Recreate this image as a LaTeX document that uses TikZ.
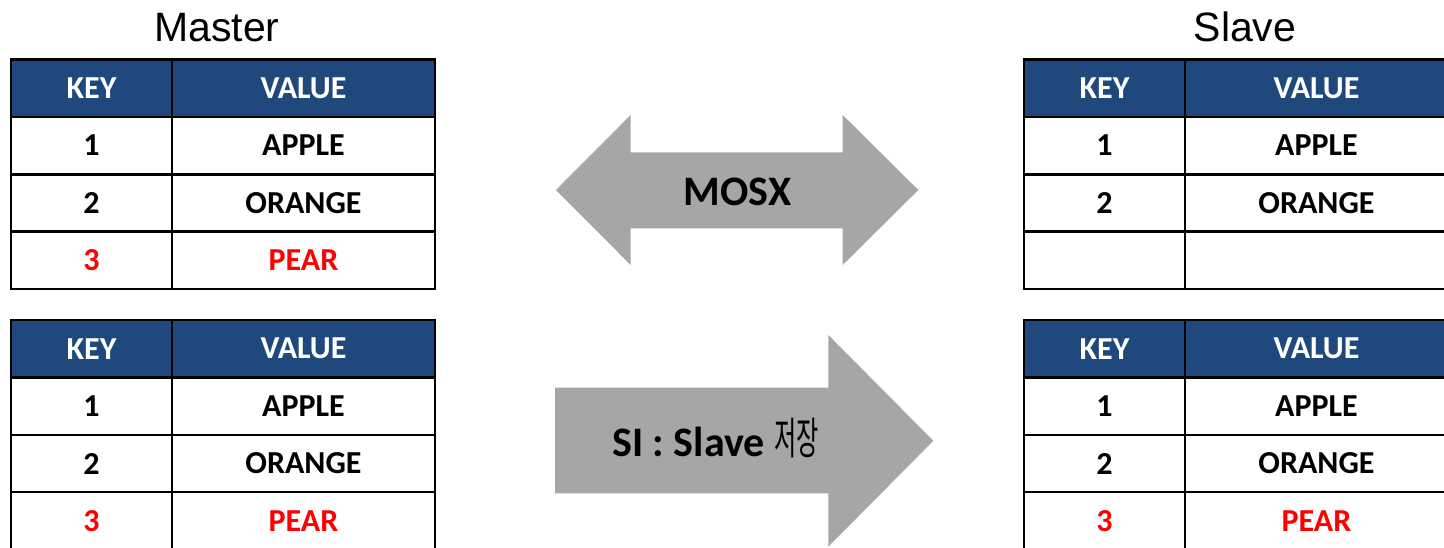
\documentclass[tikz,border=0pt]{standalone}
\usepackage{fontspec}
\usepackage{graphicx}
\setmainfont{Carlito}
\newfontfamily\arialf{Liberation Sans}
\newfontfamily\krf{Noto Sans CJK KR}
\definecolor{hdr}{RGB}{31,73,125}
\definecolor{arrowgray}{RGB}{166,166,166}
\definecolor{pearred}{RGB}{255,0,0}
\tikzset{
  cell/.style={draw=black, line width=2.5pt, minimum height=57.4pt, inner sep=0pt, outer sep=0pt,
    anchor=north west, font=\bfseries\fontsize{32}{38}\selectfont},
  keycell/.style={cell, minimum width=161pt},
  valcell/.style={cell, minimum width=263pt},
  head/.style={fill=hdr, text=white},
  hl/.style={text=pearred},
  plain/.style={},
  titletext/.style={font=\arialf\fontsize{41}{48}\selectfont, anchor=base, inner sep=0pt},
  blockarrow/.style={fill=arrowgray, draw=none},
  arrowtext/.style={font=\bfseries\fontsize{42}{50}\selectfont, inner sep=0pt},
}
\newcommand{\kvtable}[5]{%
  \node[keycell,head] (#1k0) at (#2) {KEY};
  \node[valcell,head] (#1v0) at (#1k0.north east) {VALUE};
  \node[keycell] (#1k1) at (#1k0.south west) {1};
  \node[valcell] (#1v1) at (#1k1.north east) {APPLE};
  \node[keycell] (#1k2) at (#1k1.south west) {2};
  \node[valcell] (#1v2) at (#1k2.north east) {ORANGE};
  \node[keycell,#3] (#1k3) at (#1k2.south west) {#4};
  \node[valcell,#3] (#1v3) at (#1k3.north east) {#5};
}
\begin{document}
\begin{tikzpicture}[x=1pt,y=-1pt]
\useasboundingbox (0,0) rectangle (1444,547);
\clip (0,0) rectangle (1444,547);
\fill[white] (0,0) rectangle (1444,547);

% titles
\node[titletext] (mtitle) at (217,41.7) {Master};
\node[titletext] (stitle) at (1245,41.7) {Slave};

% tables
\kvtable{ma}{11,59.5}{hl}{3}{PEAR}
\kvtable{mb}{11,320}{hl}{3}{PEAR}
\kvtable{sa}{1024,59.5}{plain}{}{}
\kvtable{sb}{1024,320}{hl}{3}{PEAR}

% double arrow (MOSX)
\fill[blockarrow] (556,190) -- (630.7,115) -- (630.7,152.3) -- (842.7,152.3) -- (842.7,115)
  -- (918.3,190) -- (842.7,265) -- (842.7,228.3) -- (630.7,228.3) -- (630.7,265) -- cycle;
\node[arrowtext, anchor=base] (mosx) at (737.5,205) {MOSX};

% single arrow (SI)
\fill[blockarrow] (555,387.7) -- (828.3,387.7) -- (828.3,335) -- (933.3,440.8)
  -- (828.3,546.7) -- (828.3,493.3) -- (555,493.3) -- cycle;
\node[arrowtext, anchor=base west] (si) at (612,456.7)
  {SI : Slave {\krf\mdseries\fontsize{44}{50}\selectfont\raisebox{2pt}{\scalebox{0.55}[1]{저장}}}};
\end{tikzpicture}
\end{document}
